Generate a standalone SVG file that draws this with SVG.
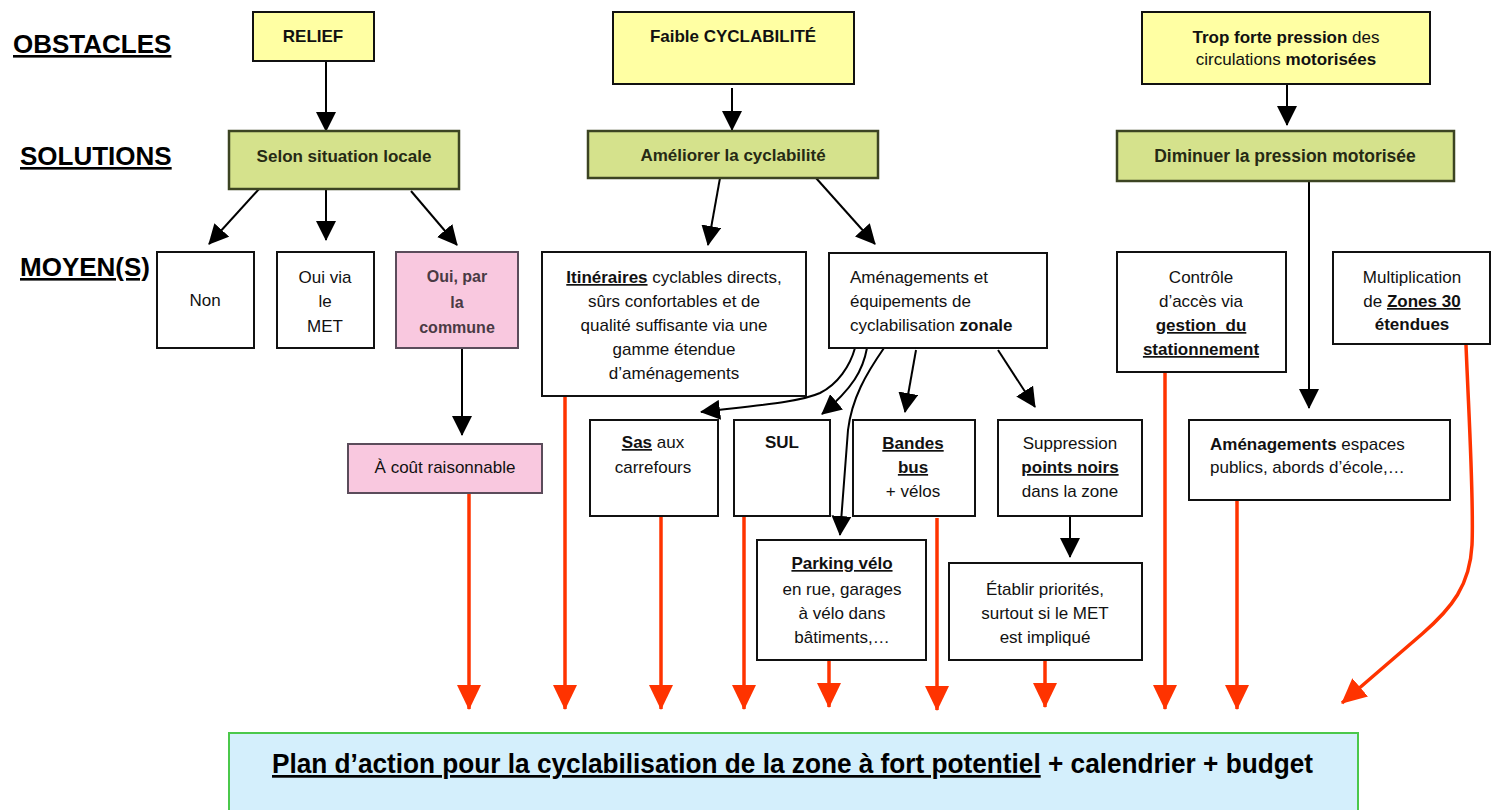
<svg xmlns="http://www.w3.org/2000/svg" width="1499" height="810" viewBox="0 0 1499 810">
<defs>
<style>
.lbl{font-family:"Liberation Sans",Arial,sans-serif;font-weight:bold;font-size:26px;text-decoration:underline;fill:#000}
.t{font-family:"Liberation Sans",Arial,sans-serif;font-size:17px;fill:#111;text-anchor:middle}
.tl{font-family:"Liberation Sans",Arial,sans-serif;font-size:17px;fill:#111;text-anchor:start}
.g{font-family:"Liberation Sans",Arial,sans-serif;font-size:17px;font-weight:bold;fill:#262a14;text-anchor:middle}
.b{font-weight:bold}
.u{text-decoration:underline}
.w{fill:#fff;stroke:#111;stroke-width:2}
.y{fill:#ffffa3;stroke:#111;stroke-width:2}
.gr{fill:#d5e28c;stroke:#3c4422;stroke-width:2.5}
.pk{fill:#f9c8df;stroke:#5b4c5b;stroke-width:2}
.pl{fill:#d4effc;stroke:#4bc84b;stroke-width:2}
.cb{fill:none;stroke:#000;stroke-width:2;marker-end:url(#ab)}
.cr{fill:none;stroke:#ff3300;stroke-width:3.5;marker-end:url(#ar)}
</style>
<marker id="ab" markerWidth="20" markerHeight="20" refX="19" refY="10" orient="auto" markerUnits="userSpaceOnUse"><path d="M0,0 L20,10 L0,20 z" fill="#000"/></marker>
<marker id="ar" markerWidth="25" markerHeight="24" refX="24" refY="12" orient="auto" markerUnits="userSpaceOnUse"><path d="M0,0 L25,12 L0,24 z" fill="#ff3300"/></marker>
</defs>
<rect width="1499" height="810" fill="#fff"/>

<g id="labels">
<text class="lbl" x="13" y="53">OBSTACLES</text>
<text class="lbl" x="20" y="165">SOLUTIONS</text>
<text class="lbl" x="20" y="276">MOYEN(S)</text>
</g>

<g id="connectors">
<path class="cb" d="M326,61 L326,131"/>
<path class="cb" d="M732,88 L732,130"/>
<path class="cb" d="M1287,85 L1287,125"/>
<path class="cb" d="M259,189 L209,244"/>
<path class="cb" d="M326,189 L326,240"/>
<path class="cb" d="M411,191 L457,245"/>
<path class="cb" d="M720,178 L708,245"/>
<path class="cb" d="M816,178 L875,244"/>
<path class="cb" d="M462,348 L462,435"/>
<path class="cb" d="M855,348 C850,366 838,384 820,393 C800,402 760,405 701,412"/>
<path class="cb" d="M867,348 C863,370 853,388 822,414"/>
<path class="cb" d="M884,348 C866,374 852,398 848,430 L840,535"/>
<path class="cb" d="M916,350 L905,412"/>
<path class="cb" d="M998,350 L1035,407"/>
<path class="cb" d="M1070,516 L1070,557"/>
<path class="cb" d="M1309,181 L1309,408"/>
<path class="cr" d="M469,493 L469,709"/>
<path class="cr" d="M565,396 L565,709"/>
<path class="cr" d="M661,517 L661,709"/>
<path class="cr" d="M744,517 L744,709"/>
<path class="cr" d="M829,661 L829,707"/>
<path class="cr" d="M937,518 L937,710"/>
<path class="cr" d="M1045,661 L1045,707"/>
<path class="cr" d="M1165,372 L1165,709"/>
<path class="cr" d="M1237,500 L1237,709"/>
<path class="cr" d="M1466,345 C1469,420 1474,500 1472,545 C1470,585 1452,608 1422,634 L1342,703"/>
</g>

<g id="relief"><rect class="y" x="253" y="12" width="121" height="49"/><text class="t b" x="313" y="42">RELIEF</text></g>
<g id="faible"><rect class="y" x="613" y="12" width="241" height="72"/><text class="t b" x="733" y="42">Faible CYCLABILITÉ</text></g>
<g id="trop"><rect class="y" x="1142" y="12" width="288" height="72"/><text class="t" x="1286" y="43"><tspan class="b">Trop forte pression</tspan> des</text><text class="t" x="1286" y="65">circulations <tspan class="b">motorisées</tspan></text></g>

<g id="selon"><rect class="gr" x="229" y="131" width="230" height="58"/><text class="g" x="344" y="162">Selon situation locale</text></g>
<g id="ameliorer"><rect class="gr" x="588" y="131" width="290" height="47"/><text class="g" x="733" y="161">Améliorer la cyclabilité</text></g>
<g id="diminuer"><rect class="gr" x="1117" y="131" width="337" height="50"/><text class="g" x="1285" y="162" style="font-size:17.5px">Diminuer la pression motorisée</text></g>

<g id="non"><rect class="w" x="157" y="252" width="97" height="96"/><text class="t" x="205" y="306">Non</text></g>
<g id="ouivia"><rect class="w" x="277" y="252" width="97" height="96"/><text class="t" x="325" y="283">Oui via</text><text class="t" x="325" y="307">le</text><text class="t" x="325" y="332">MET</text></g>
<g id="commune"><rect class="pk" x="396" y="252" width="122" height="96"/><text class="g" x="457" y="282" style="fill:#4a3a44;font-size:16px">Oui, par</text><text class="g" x="457" y="308" style="fill:#4a3a44;font-size:16px">la</text><text class="g" x="457" y="333" style="fill:#4a3a44;font-size:16px">commune</text></g>
<g id="cout"><rect class="pk" x="348" y="444" width="194" height="49"/><text class="t" x="445" y="473">À coût raisonnable</text></g>

<g id="itineraires"><rect class="w" x="542" y="252" width="264" height="144"/>
<text class="t" x="674" y="283"><tspan class="b u">Itinéraires</tspan> cyclables directs,</text>
<text class="t" x="674" y="307">sûrs confortables et de</text>
<text class="t" x="674" y="331">qualité suffisante via une</text>
<text class="t" x="674" y="355">gamme étendue</text>
<text class="t" x="674" y="379">d’aménagements</text></g>

<g id="amenagements"><rect class="w" x="829" y="253" width="218" height="95"/>
<text class="tl" x="850" y="283">Aménagements et</text>
<text class="tl" x="850" y="307">équipements de</text>
<text class="tl" x="850" y="331">cyclabilisation <tspan class="b">zonale</tspan></text></g>

<g id="sas"><rect class="w" x="590" y="420" width="128" height="96"/><text class="t" x="653" y="448"><tspan class="b u">Sas</tspan> aux</text><text class="t" x="653" y="473">carrefours</text></g>
<g id="sul"><rect class="w" x="734" y="420" width="96" height="96"/><text class="t b" x="782" y="448">SUL</text></g>
<g id="bandes"><rect class="w" x="853" y="420" width="122" height="96"/><text class="t b u" x="913" y="449">Bandes</text><text class="t b u" x="913" y="473">bus</text><text class="t" x="913" y="497">+ vélos</text></g>
<g id="suppression"><rect class="w" x="998" y="420" width="144" height="96"/><text class="t" x="1070" y="449">Suppression</text><text class="t b u" x="1070" y="473">points noirs</text><text class="t" x="1070" y="497">dans la zone</text></g>
<g id="parking"><rect class="w" x="757" y="540" width="169" height="120"/><text class="t b u" x="842" y="569">Parking vélo</text><text class="t" x="842" y="595">en rue, garages</text><text class="t" x="842" y="619">à vélo dans</text><text class="t" x="842" y="643">bâtiments,…</text></g>
<g id="etablir"><rect class="w" x="949" y="563" width="193" height="97"/><text class="t" x="1045" y="595">Établir priorités,</text><text class="t" x="1045" y="619">surtout si le MET</text><text class="t" x="1045" y="643">est impliqué</text></g>

<g id="controle"><rect class="w" x="1117" y="252" width="169" height="120"/><text class="t" x="1201" y="283">Contrôle</text><text class="t" x="1201" y="307">d’accès via</text><text class="t b u" x="1201" y="331" style="white-space:pre">gestion  du</text><text class="t b u" x="1201" y="355">stationnement</text></g>
<g id="zones30"><rect class="w" x="1333" y="252" width="157" height="92"/><text class="t" x="1412" y="283">Multiplication</text><text class="t" x="1412" y="307">de <tspan class="b u">Zones 30</tspan></text><text class="t b" x="1412" y="330">étendues</text></g>
<g id="espaces"><rect class="w" x="1189" y="420" width="261" height="80"/><text class="tl" x="1210" y="450"><tspan class="b">Aménagements</tspan> espaces</text><text class="tl" x="1210" y="473">publics, abords d’école,…</text></g>

<g id="plan"><rect class="pl" x="229" y="733" width="1129" height="90"/><text x="272" y="773" textLength="1041" lengthAdjust="spacingAndGlyphs" style="font-family:'Liberation Sans',Arial,sans-serif;font-weight:bold;font-size:27px;fill:#000"><tspan class="u">Plan d’action pour la cyclabilisation de la zone à fort potentiel</tspan> + calendrier + budget</text></g>
</svg>
